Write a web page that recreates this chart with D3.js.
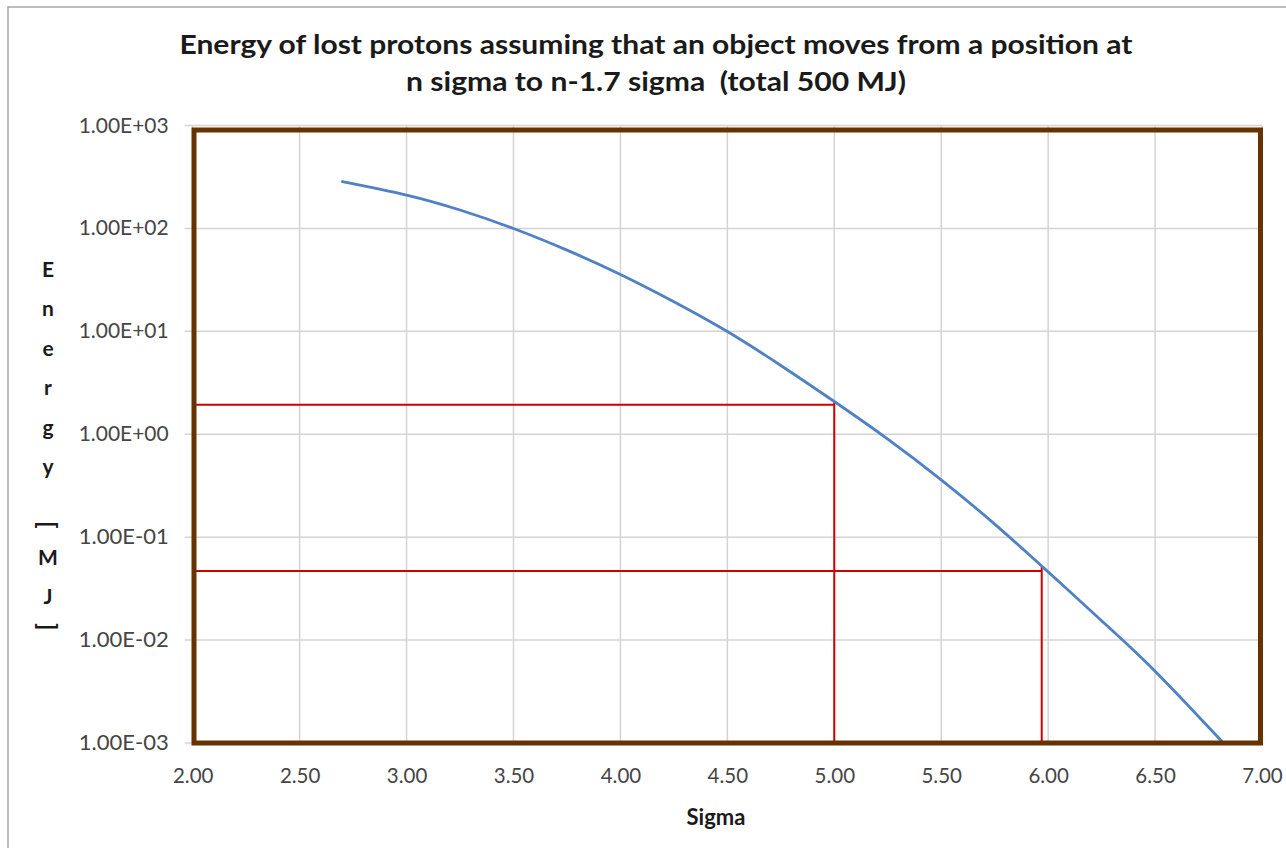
<!DOCTYPE html>
<html>
<head>
<meta charset="utf-8">
<script src="https://cdn.jsdelivr.net/npm/d3@7"></script>
<style>
  html, body { margin: 0; padding: 0; background: #ffffff; }
  svg { display: block; }
  .pre { white-space: pre; }
</style>
</head>
<body>
<svg id="chart" width="1286" height="848"></svg>
<script>
// ---- data ----
const titleLines = ["Energy of lost protons assuming that an object moves from a position at",
                    "n sigma to n-1.7 sigma  (total 500 MJ)"];
const xTitle = "Sigma";
const yTitleChars = ["E", "n", "e", "r", "g", "y", " ", "[", "M", "J", "]"];
const sigma  = [2.70, 3.00, 3.25, 3.50, 3.75, 4.00, 4.25, 4.50, 4.75, 5.00, 5.25, 5.50, 5.75, 6.00, 6.25, 6.50, 6.81];
const energy = [285, 211, 151, 99.8, 61.5, 35.7, 19.4, 9.95, 4.66, 2.08, 0.898, 0.361, 0.134, 0.046, 0.0154, 0.00499, 0.00105];
const xTicks = [2.0, 2.5, 3.0, 3.5, 4.0, 4.5, 5.0, 5.5, 6.0, 6.5, 7.0];
const xTickLabels = ["2.00", "2.50", "3.00", "3.50", "4.00", "4.50", "5.00", "5.50", "6.00", "6.50", "7.00"];
const yTicks = [1e3, 1e2, 1e1, 1e0, 1e-1, 1e-2, 1e-3];
const yTickLabels = ["1.00E+03", "1.00E+02", "1.00E+01", "1.00E+00", "1.00E-01", "1.00E-02", "1.00E-03"];
// marker lines: [sigma, energy]
const markers = [[5.00, 1.93], [5.97, 0.047]];

// ---- layout ----
const svg = d3.select("#chart");
const L = 192.7, R = 1262, T = 125.5, B = 743;
const x = d3.scaleLinear().domain([2, 7]).range([L, R]);
const y = d3.scaleLog().domain([1e-3, 1e3]).range([B, T]);
const FONT = "Lato, 'Open Sans', sans-serif";

// outer chart border
svg.append("rect").attr("x", 8).attr("y", 7).attr("width", 1290).attr("height", 860)
  .attr("fill", "#fff").attr("stroke", "#a6a6a6").attr("stroke-width", 1.5);

// title
svg.append("g").selectAll("text").data(titleLines).join("text")
  .attr("class", "pre")
  .attr("x", 656).attr("y", (d, i) => 54 + i * 37)
  .attr("text-anchor", "middle")
  .attr("font-family", FONT)
  .attr("font-weight", "bold").attr("font-size", 26).attr("fill", "#1a1a1a")
  .attr("textLength", (d, i) => i === 0 ? 953 : 500)
  .attr("lengthAdjust", "spacingAndGlyphs")
  .text(d => d);

// gridlines
const grid = svg.append("g").attr("stroke", "#d4d4d4").attr("stroke-width", 1.5);
grid.selectAll("line.v").data(xTicks).join("line").attr("class", "v")
  .attr("x1", d => x(d)).attr("x2", d => x(d)).attr("y1", T).attr("y2", B);
grid.selectAll("line.h").data(yTicks).join("line").attr("class", "h")
  .attr("x1", L - 8).attr("x2", R).attr("y1", d => y(d)).attr("y2", d => y(d));

// y axis labels
const yAxis = d3.axisLeft(y).tickValues(yTicks).tickSize(0).tickPadding(24)
  .tickFormat((d, i) => yTickLabels[i]);
const gy = svg.append("g").attr("transform", `translate(${L},0)`).call(yAxis);
gy.select(".domain").remove();
gy.selectAll("text").attr("font-family", FONT)
  .attr("font-size", 20.5).attr("fill", "#454545")
  .attr("textLength", 90).attr("lengthAdjust", "spacingAndGlyphs");

// x axis labels
const xAxis = d3.axisBottom(x).tickValues(xTicks).tickSize(0).tickPadding(25)
  .tickFormat((d, i) => xTickLabels[i]);
const gx = svg.append("g").attr("transform", `translate(0,${B})`).call(xAxis);
gx.select(".domain").remove();
gx.selectAll("text").attr("font-family", FONT)
  .attr("font-size", 20.5).attr("fill", "#454545");

// axis titles
svg.append("text").attr("x", 716).attr("y", 825).attr("text-anchor", "middle")
  .attr("font-family", FONT).attr("font-weight", "bold")
  .attr("font-size", 22).attr("fill", "#1a1a1a").text(xTitle);

// stacked y title
const charH = c => c === " " ? 28 : (c === "[" || c === "]") ? 23 : 39.5;
let cyPos = 268;
const yt = svg.append("g");
yTitleChars.forEach((c, i) => {
  if (i > 0) cyPos += (charH(yTitleChars[i - 1]) + charH(c)) / 2;
  if (c === " ") return;
  const isBr = c === "[" || c === "]";
  const t = yt.append("text").attr("x", 48).attr("y", cyPos)
    .attr("text-anchor", "middle").attr("dominant-baseline", "central")
    .attr("font-family", FONT).attr("font-weight", "bold")
    .attr("font-size", isBr ? 24 : 21).attr("fill", "#1a1a1a").text(c);
  if (isBr) t.attr("transform", `rotate(90,48,${cyPos})`);
});

// red marker lines
const red = svg.append("g").attr("stroke", "#cc0000").attr("stroke-width", 2).attr("fill", "none");
markers.forEach(([sx, ey]) => {
  red.append("line").attr("x1", L).attr("x2", x(sx)).attr("y1", y(ey)).attr("y2", y(ey));
  red.append("line").attr("x1", x(sx)).attr("x2", x(sx)).attr("y1", y(ey) - 4).attr("y2", B);
});

// curve
const line = d3.line().x((d, i) => x(sigma[i])).y((d, i) => y(energy[i])).curve(d3.curveNatural);
svg.append("path").datum(sigma).attr("d", line)
  .attr("fill", "none").attr("stroke", "#5081c4").attr("stroke-width", 2.8)
  .attr("stroke-linecap", "round");

// plot area frame (brown)
svg.append("rect").attr("x", 194).attr("y", 130).attr("width", 1260.5 - 194).attr("height", 743 - 130)
  .attr("fill", "none").attr("stroke", "#663300").attr("stroke-width", 5);
</script>
</body>
</html>
